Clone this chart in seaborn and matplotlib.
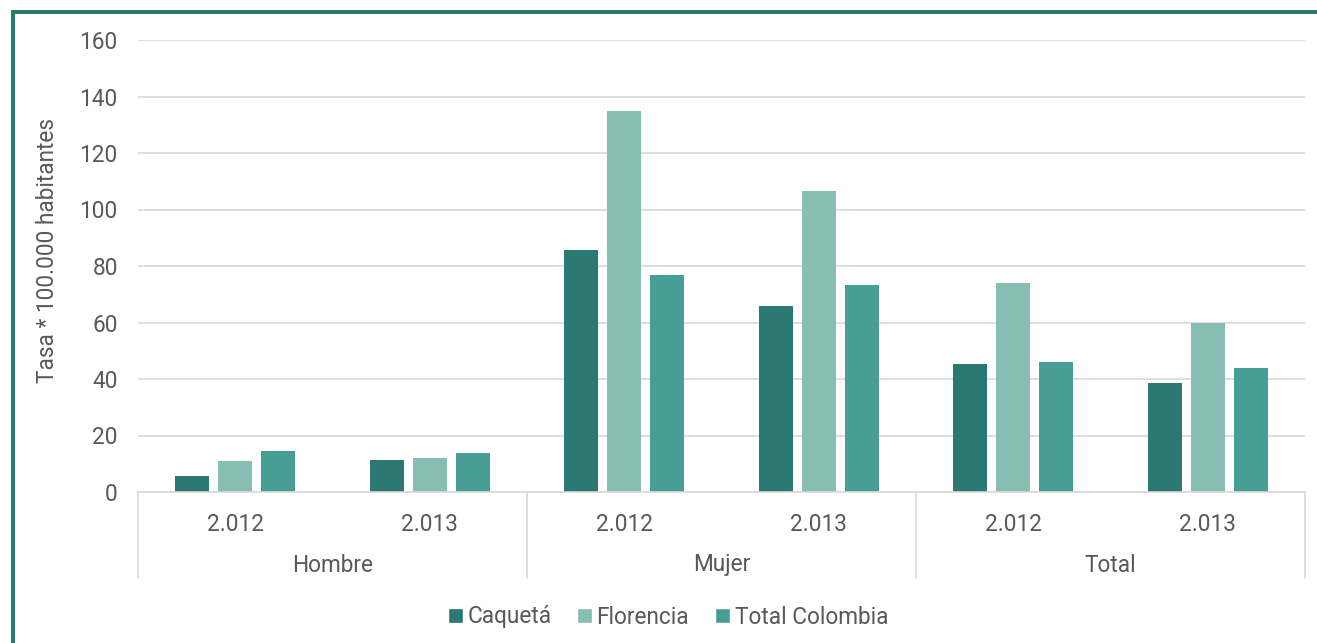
import matplotlib
matplotlib.use("Agg")
import matplotlib.pyplot as plt
import matplotlib.patches as mpatches
import matplotlib.transforms as mtransforms
import seaborn as sns
import pandas as pd

groups = ["Hombre", "Mujer", "Total"]
years = ["2.012", "2.013"]
series = ["Caquetá", "Florencia", "Total Colombia"]
caqueta = [5.8, 11.3, 85.5, 65.8, 45.3, 38.5]
florencia = [11.0, 12.0, 134.9, 106.5, 74.0, 59.9]
total_colombia = [14.6, 13.7, 76.7, 73.3, 46.0, 43.8]
colors = ["#2c7873", "#87bdb3", "#469e94"]

slots = [f"{g} {y}" for g in groups for y in years]
rows = []
for name, vals in zip(series, [caqueta, florencia, total_colombia]):
    for s, v in zip(slots, vals):
        rows.append({"slot": s, "serie": name, "valor": v})
df = pd.DataFrame(rows)

sns.set_theme(style="white")
plt.rcParams["font.family"] = ["Roboto", "DejaVu Sans"]
txt = "#595959"
fs = 16.3

fig = plt.figure(figsize=(13.17, 6.43), dpi=100)
ax = fig.add_axes([138/1317, 1-492/643, (1305-138)/1317, (492-40)/643])

sns.barplot(data=df, x="slot", y="valor", hue="serie", order=slots, hue_order=series,
            palette=colors, width=0.663, gap=0.21, ax=ax, saturation=1,
            edgecolor="none", legend=True)

ax.set_xlim(-0.5, 5.5)
ax.set_ylim(0, 160)
ax.set_yticks(range(0, 161, 20))
ax.grid(axis="y", color="#d9d9d9", linewidth=1.2)
ax.set_axisbelow(True)
for sp in ["top", "right", "left"]:
    ax.spines[sp].set_visible(False)
ax.spines["bottom"].set_color("#d9d9d9")
ax.spines["bottom"].set_linewidth(1.2)
ax.tick_params(axis="y", length=0, labelsize=fs, labelcolor=txt, pad=14.5)
ax.set_xticks(range(6))
ax.set_xticklabels(years * 3)
ax.tick_params(axis="x", length=0, labelsize=fs, labelcolor=txt, pad=15)
ax.set_xlabel("")
ax.set_ylabel("Tasa * 100.000 habitantes", fontsize=fs, color=txt)
ax.yaxis.set_label_coords(-0.068, 0.535)

trans = mtransforms.blended_transform_factory(ax.transData, ax.transAxes)
axh = (492-40)
for xb in [-0.5, 1.5, 3.5, 5.5]:
    ax.plot([xb, xb], [0, -(578-492)/axh], transform=trans, color="#d9d9d9",
            linewidth=1.2, clip_on=False)
for i, g in enumerate(groups):
    ax.text(2*i + 0.5, -(565-492)/axh, g, transform=trans, ha="center", va="center",
            fontsize=fs, color=txt)

handles = [mpatches.Rectangle((0, 0), 1, 1, facecolor=c) for c in colors]
if ax.get_legend() is not None:
    ax.get_legend().remove()
fig.legend(handles, series, loc="center", bbox_to_anchor=(668/1317, 1-617/643),
           ncol=3, frameon=False, fontsize=fs, handlelength=0.65, handleheight=0.65,
           handletextpad=0.2, columnspacing=1.15, labelcolor=txt)

frame = mpatches.Rectangle((13/1317, -0.2), 1.5, 1.2 - 12/643, transform=fig.transFigure,
                           fill=False, edgecolor="#2a7a72", linewidth=2.9, clip_on=False)
fig.patches.append(frame)

fig.savefig("out.png", dpi=100)
